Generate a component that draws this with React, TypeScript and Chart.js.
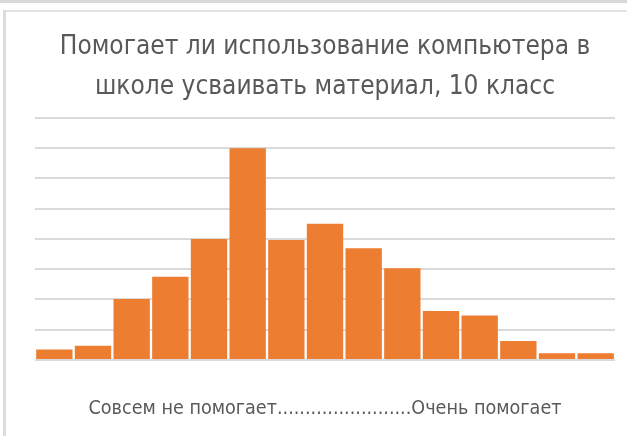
import React, { useEffect, useRef } from "react";
import { Chart, registerables } from "chart.js";

Chart.register(...registerables);

const categories = ["1", "2", "3", "4", "5", "6", "7", "8", "9", "10", "11", "12", "13", "14", "15"];
const values = [0.35, 0.47, 2.02, 2.75, 4.0, 7.0, 3.97, 4.5, 3.69, 3.03, 1.62, 1.47, 0.63, 0.22, 0.22];
const titleLines = ["Помогает ли использование компьютера в", "школе усваивать материал, 10 класс"];
const axisTitle = "Совсем не помогает........................Очень помогает";

const FONT = '"Liberation Sans Narrow", "DejaVu Sans Condensed", "Liberation Sans", sans-serif';

export default function App() {
  const ref = useRef<HTMLCanvasElement | null>(null);

  useEffect(() => {
    if (!ref.current) return;
    const chart = new Chart(ref.current, {
      type: "bar",
      data: {
        labels: categories,
        datasets: [
          {
            data: values,
            backgroundColor: "#ED7D31",
            borderWidth: 0,
            barPercentage: 0.94,
            categoryPercentage: 1,
          },
        ],
      },
      options: {
        animation: false,
        responsive: false,
        maintainAspectRatio: false,
        events: [],
        layout: { padding: { left: 35, right: 12, top: 22, bottom: 15 } },
        plugins: {
          legend: { display: false },
          tooltip: { enabled: false },
          title: {
            display: true,
            text: titleLines,
            color: "#595959",
            font: { family: FONT, size: 26, weight: "normal", lineHeight: 40 / 26 },
            padding: { top: 5, bottom: 11 },
          },
        },
        scales: {
          x: {
            grid: { display: false, drawTicks: false },
            border: { display: false },
            ticks: { display: false },
            title: {
              display: true,
              text: axisTitle,
              color: "#595959",
              font: { family: FONT, size: 19.6, weight: "normal", lineHeight: 1.2 },
              padding: { top: 37.5, bottom: 0 },
            },
          },
          y: {
            min: 0,
            max: 8,
            grid: { color: "#dadada", lineWidth: 2, drawTicks: false },
            border: { display: false },
            ticks: { display: false, stepSize: 1 },
          },
        },
      },
    });
    return () => chart.destroy();
  }, []);

  return (
    <div style={{ position: "absolute", left: 0, top: 0, width: 627, height: 436, background: "#fff", overflow: "hidden" }}>
      <div style={{ position: "absolute", left: 0, top: 0, width: 627, height: 3, background: "#d9d9d9" }} />
      <div
        style={{
          position: "absolute",
          left: 3,
          top: 10,
          width: 624,
          height: 426,
          borderLeft: "3px solid #dcdcdc",
          borderTop: "2px solid #e2e2e2",
          boxSizing: "border-box",
        }}
      />
      <canvas ref={ref} width={627} height={436} style={{ position: "absolute", left: 0, top: 0 }} />
    </div>
  );
}
